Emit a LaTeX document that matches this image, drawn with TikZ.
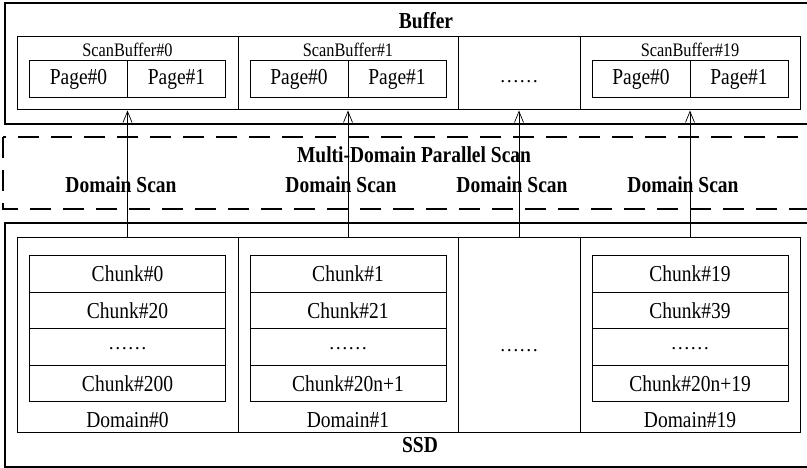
\documentclass[tikz,border=0pt]{standalone}
\usepackage{graphicx}
\usepackage{fontspec}
\setmainfont{Liberation Serif}
\usetikzlibrary{arrows.meta}

\newcommand{\figfont}{\fontsize{19.5}{23}\selectfont}
% the labels are set a little taller than the font
\newcommand{\tall}[1]{\scalebox{1}[1.17]{#1}}
\newcommand{\dotrow}{\raisebox{-5pt}{……}}
\tikzset{
  frame/.style={draw, line width=2.6pt},
  dashframe/.style={draw, line width=2.6pt, dash pattern=on 21pt off 12pt},
  cell/.style={draw, line width=1pt, inner sep=0pt},
  txt/.style={font=\figfont, inner sep=0pt},
  small/.style={font=\fontsize{16.3}{19}\selectfont, inner sep=0pt},
  title/.style={font=\figfont\bfseries, inner sep=0pt},
  scan/.style={-{Straight Barb[length=11pt,width=9pt]}, line width=0.7pt}
}

\begin{document}
\begin{tikzpicture}[x=1pt, y=-1pt]
  \useasboundingbox (0,0) rectangle (807,468);

  % buffer side
  \draw[frame] (5,3) rectangle (840,124);
  \node[title] (buf) at (426,21) {\tall{Buffer}};

  \node[cell, minimum width=221pt, minimum height=73pt] (sb0) at (127.5,73.5) {};
  \node[small] (sb0t) at (127.5,50) {\tall{ScanBuffer\#0}};
  \node[cell, txt, minimum width=98pt, minimum height=37pt] (p00) at (78.5,79.5) {\tall{Page\#0}};
  \node[cell, txt, minimum width=98pt, minimum height=37pt] (p01) at (176.5,79.5) {\tall{Page\#1}};

  \node[cell, minimum width=220pt, minimum height=73pt] (sb1) at (348,73.5) {};
  \node[small] (sb1t) at (348,50) {\tall{ScanBuffer\#1}};
  \node[cell, txt, minimum width=98pt, minimum height=37pt] (p10) at (299,79.5) {\tall{Page\#0}};
  \node[cell, txt, minimum width=98pt, minimum height=37pt] (p11) at (397,79.5) {\tall{Page\#1}};

  \node[cell, minimum width=122pt, minimum height=73pt] (sb2) at (519,73.5) {};
  \node[txt] (sb2t) at (519,82) {……};

  \node[cell, minimum width=220pt, minimum height=73pt] (sb3) at (690,73.5) {};
  \node[small] (sb3t) at (690,50) {\tall{ScanBuffer\#19}};
  \node[cell, txt, minimum width=98pt, minimum height=37pt] (p30) at (641,79.5) {\tall{Page\#0}};
  \node[cell, txt, minimum width=98pt, minimum height=37pt] (p31) at (739,79.5) {\tall{Page\#1}};

  % scan layer
  \draw[dashframe] (3,137) rectangle (840,209);
  \node[title] (mdps) at (414,155) {\tall{Multi-Domain Parallel Scan}};
  \node[title] (ds0) at (121,185) {\tall{Domain Scan}};
  \node[title] (ds1) at (341,185) {\tall{Domain Scan}};
  \node[title] (ds2) at (512,185) {\tall{Domain Scan}};
  \node[title] (ds3) at (683,185) {\tall{Domain Scan}};

  % ssd side
  \draw[frame] (5,223) rectangle (840,467);
  \node[title] (ssd) at (420,445) {\tall{SSD}};

  \node[cell, minimum width=221pt, minimum height=194pt] (dom0) at (127.5,335) {};
  \node[cell, txt, minimum width=196pt, minimum height=36.5pt] (c00) at (127.5,274) {\tall{Chunk\#0}};
  \node[cell, txt, minimum width=196pt, minimum height=36.5pt] (c01) at (127.5,310.5) {\tall{Chunk\#20}};
  \node[cell, txt, minimum width=196pt, minimum height=36.5pt] (c02) at (127.5,347) {\dotrow};
  \node[cell, txt, minimum width=196pt, minimum height=36.5pt] (c03) at (127.5,383.5) {\tall{Chunk\#200}};
  \node[txt] (dom0t) at (127.5,420) {\tall{Domain\#0}};

  \node[cell, minimum width=220pt, minimum height=194pt] (dom1) at (348,335) {};
  \node[cell, txt, minimum width=196pt, minimum height=36.5pt] (c10) at (348,274) {\tall{Chunk\#1}};
  \node[cell, txt, minimum width=196pt, minimum height=36.5pt] (c11) at (348,310.5) {\tall{Chunk\#21}};
  \node[cell, txt, minimum width=196pt, minimum height=36.5pt] (c12) at (348,347) {\dotrow};
  \node[cell, txt, minimum width=196pt, minimum height=36.5pt] (c13) at (348,383.5) {\tall{Chunk\#20n+1}};
  \node[txt] (dom1t) at (348,420) {\tall{Domain\#1}};

  \node[cell, minimum width=122pt, minimum height=194pt] (dom2) at (519,335) {};
  \node[txt] (dom2t) at (519,351) {……};

  \node[cell, minimum width=220pt, minimum height=194pt] (dom3) at (690,335) {};
  \node[cell, txt, minimum width=196pt, minimum height=36.5pt] (c30) at (690,274) {\tall{Chunk\#19}};
  \node[cell, txt, minimum width=196pt, minimum height=36.5pt] (c31) at (690,310.5) {\tall{Chunk\#39}};
  \node[cell, txt, minimum width=196pt, minimum height=36.5pt] (c32) at (690,347) {\dotrow};
  \node[cell, txt, minimum width=196pt, minimum height=36.5pt] (c33) at (690,383.5) {\tall{Chunk\#20n+19}};
  \node[txt] (dom3t) at (690,420) {\tall{Domain\#19}};

  % one scan per domain
  \draw[scan] (dom0.north) -- (sb0.south);
  \draw[scan] (dom1.north) -- (sb1.south);
  \draw[scan] (dom2.north) -- (sb2.south);
  \draw[scan] (dom3.north) -- (sb3.south);
\end{tikzpicture}
\end{document}
